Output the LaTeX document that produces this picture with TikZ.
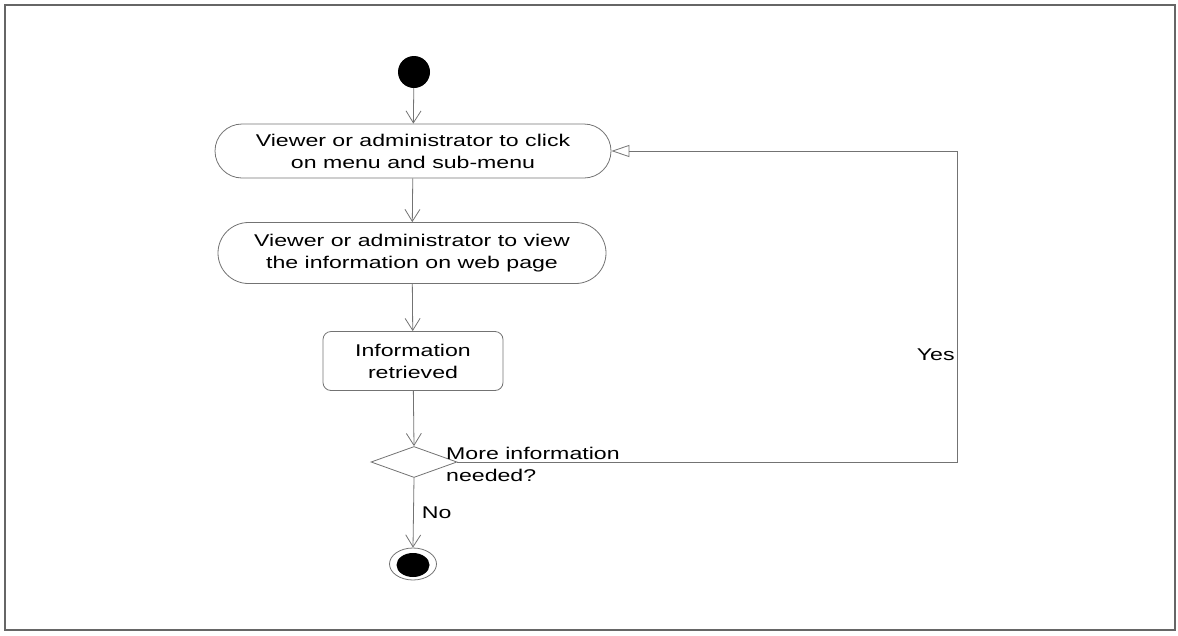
\documentclass[tikz,border=0pt]{standalone}
\usepackage{fontspec}
\setmainfont{Liberation Sans}[FakeStretch=1.36]
\usetikzlibrary{shapes.misc,shapes.geometric,arrows.meta}
\newcommand\dgfont{\fontsize{17}{22}\selectfont}
\tikzset{
  ln/.style={draw=black!55, line width=0.8pt},
  act/.style={rounded rectangle, ln, align=center, inner sep=0pt, font=\dgfont},
  actbox/.style={rectangle, rounded corners=8pt, ln, align=center, inner sep=0pt, font=\dgfont},
  flow/.style={ln, -{Straight Barb[length=12pt,width=15pt]}},
  backflow/.style={ln, -{Triangle[open,length=18pt,width=12pt]}},
  dec/.style={diamond, ln, inner sep=0pt, minimum width=86pt, minimum height=31pt},
  lbl/.style={font=\dgfont, text=black, inner sep=2pt},
}
\begin{document}
\begin{tikzpicture}[x=1pt,y=-1pt]
\useasboundingbox (0,0) rectangle (1178,635);
\draw[draw=black!60, line width=1.2pt] (5,5) rectangle (1175,630);

\node[circle, fill=black, minimum size=32pt, inner sep=0pt] (start) at (414,72) {};
\node[act, minimum width=396pt, minimum height=54pt] (a1) at (413,151) {Viewer or administrator to click\\on menu and sub-menu};
\node[act, minimum width=388pt, minimum height=61pt] (a2) at (412,253) {Viewer or administrator to view\\the information on web page};
\node[actbox, minimum width=180pt, minimum height=59pt] (a3) at (413,361) {Information\\retrieved};
\node[dec] (d) at (414,462) {};
\node[lbl, anchor=west, align=left] (dq) at (444,464) {More information\\needed?};
\node[ellipse, ln, minimum width=47pt, minimum height=32pt, inner sep=0pt] (end) at (413,564) {};
\node[ellipse, fill=black, minimum width=33pt, minimum height=24pt, inner sep=0pt] (endin) at (413,565) {};

\coordinate (c1) at (957,462);
\coordinate (c2) at (957,151);

\draw[flow] (start) -- (a1);
\draw[flow] (a1) -- (a2);
\draw[flow] (a2) -- (a3);
\draw[flow] (a3) -- (d.north);
\draw[flow] (d.south) -- node[lbl, right, pos=0.5, xshift=6pt] (no) {No} (end.north);
\draw[backflow] (d.east) -- (c1) -- node[lbl, left, pos=0.345] (yes) {Yes} (c2) -- (a1.east);
\end{tikzpicture}
\end{document}
